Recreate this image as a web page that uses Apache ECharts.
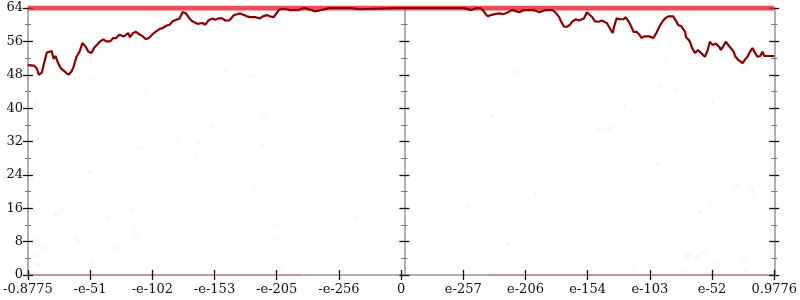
<!DOCTYPE html>
<html><head><meta charset="utf-8">
<script src="https://cdn.jsdelivr.net/npm/echarts@6/dist/echarts.min.js"></script>
<style>html,body{margin:0;padding:0;background:#fff}#c{width:800px;height:300px}</style>
</head><body><div id="c"></div>
<script>
// Tick labels for x axis (positions 0..12)
const tickLabels = ['-0.8775','-e-51','-e-102','-e-153','-e-205','-e-256','0','e-257','e-206','e-154','e-103','e-52','0.9776'];

// Main line: x positions (in tick units) and y values
const lineX = [0,0.096,0.143,0.175,0.223,0.255,0.303,0.382,0.414,0.446,0.478,0.526,0.574,0.653,0.701,0.733,0.781,0.829,0.876,0.924,0.972,1.020,1.068,1.100,1.147,1.211,1.259,1.323,1.371,1.418,1.466,1.498,1.546,1.610,1.641,1.689,1.737,1.801,1.849,1.896,1.944,1.976,2.024,2.056,2.120,2.167,2.231,2.279,2.327,2.359,2.438,2.486,2.534,2.566,2.598,2.645,2.677,2.725,2.757,2.805,2.853,2.900,2.964,3.012,3.060,3.124,3.171,3.235,3.283,3.315,3.363,3.410,3.442,3.474,3.522,3.570,3.602,3.665,3.729,3.777,3.841,3.888,3.952,4.000,4.032,4.080,4.112,4.159,4.207,4.271,4.351,4.398,4.446,4.494,4.558,4.606,4.637,4.685,4.717,4.797,4.845,5.195,5.227,5.323,5.355,6,7,7.060,7.124,7.219,7.267,7.315,7.363,7.394,7.442,7.474,7.522,7.586,7.633,7.697,7.745,7.793,7.857,7.904,7.952,8.016,8.064,8.112,8.175,8.223,8.271,8.335,8.382,8.430,8.478,8.510,8.542,8.574,8.622,8.669,8.717,8.749,8.813,8.861,8.892,8.940,8.988,9.020,9.068,9.116,9.147,9.179,9.227,9.259,9.307,9.355,9.402,9.434,9.466,9.514,9.546,9.578,9.610,9.657,9.689,9.737,9.785,9.833,9.865,9.912,9.944,9.992,10.056,10.104,10.167,10.215,10.247,10.295,10.327,10.375,10.406,10.438,10.454,10.502,10.534,10.566,10.582,10.614,10.645,10.677,10.725,10.773,10.805,10.837,10.884,10.932,10.964,10.996,11.012,11.060,11.092,11.124,11.139,11.187,11.219,11.267,11.299,11.347,11.378,11.426,11.490,11.538,11.570,11.602,11.649,11.681,11.729,11.777,11.809,11.841,11.888,12];
const lineY = [50.3,50.2,49.5,48,48.5,50.5,53.3,53.7,51.8,52.5,51,49.6,49,48,48.8,49.9,52.3,53.5,55.6,54.8,53.5,53.2,54.5,54.7,55.8,56.5,56,56,56.8,56.8,57.6,57.5,57.2,58,57,58,58.3,57.6,57.2,56.5,56.8,57,58,58.3,59,59.2,59.8,60,60.8,61.1,61.5,63,62.8,62.2,61.5,60.8,60.4,60.2,60.5,60.4,60,61,61.5,61.2,61.5,61.5,61,61,61.8,62.3,62.5,62.7,62.6,62.3,62,61.8,61.5,61.8,61.5,62,62.3,62,61.8,62.8,63.5,63.8,64,63.7,63.5,63.5,63.5,63.8,64,63.8,63.5,63.2,63,63.4,63.5,63.8,64,64,63.7,63.7,64,64,64,63.8,63.5,64,64,63.5,62.5,62,62.3,62.3,62.6,62.7,62.5,62.8,63.2,63.5,63.2,63,63.4,63.5,63.5,63.5,63.3,63,63.3,63.5,63.5,63.5,63,62.8,61.8,60.7,59.5,59.5,60,60.7,61.3,61,61,61.5,63,62.5,61.9,60.8,60.4,60.7,61,61,60.4,59.2,58,60,61.5,61.3,61,61.3,61.8,60.8,59.9,58.3,58.3,57.6,56.8,57.2,57.5,57.2,56.8,58,59.9,61,61.5,62,62,62,61.8,60.5,59.9,59.7,59.5,58.3,57,56.5,55.9,54.5,53.2,53.9,53.9,53,52.3,54,55.9,55.5,55.1,55.5,55.9,54.5,53.9,55,55.9,55,54.4,53.5,52.3,51.5,50.8,51.8,52.3,53.3,54.4,53.5,52.3,52.5,53.5,52.5,52.5,52.5];

// Faint scattered samples
const scatterX = [0.127,0.032,0.446,0.478,0.558,0.112,0.127,0.159,0.287,0.781,0.797,1.004,1.020,1.275,1.402,1.689,1.721,1.721,1.817,2.406,2.741,2.709,2.948,3.649,3.793,3.777,3.968,3.968,4.032,5.275,1.020,1.880,3.171,3.618,7.474,7.076,7.713,8.159,8.956,9.179,9.355,9.610,9.753,10.135,10.566,10.598,10.630,10.773,10.869,10.821,10.964,11.012,11.092,11.394,11.490,11.538,11.649,11.665,11.649,10.231,10.167,10.422,11.506,11.761,7.873];
const scatterY = [41.2,35.2,14.4,14.9,15.6,8.4,4.6,2.6,6.5,8.9,7.9,24.7,2.9,13.4,6.5,15.6,11.5,9.3,30.4,32.1,31.9,28.3,35.7,20.9,38.6,31.2,12.0,8.6,1.7,13.9,47.0,43.6,49.1,47.7,38.1,16.8,7.4,19.7,8.4,34.8,35.2,40.7,1.4,26.8,1.0,4.3,5.0,4.3,5.3,14.9,16.8,41.5,2.6,21.3,3.8,1.0,20.4,19.2,8.4,50.8,45.1,44.3,49.4,50.8,48.7];

// Dense sample bands at the extremes (x range start/end, y value)
const topBand = [[0,64],[12,64]];
const bottomBandLeft = [[0,0],[4.4,0]];
const bottomBandRight = [[7.4,0],[12,0]];

const FONT = 'DejaVu Serif';
const AX = '#b0b0b0';

function yAx(opts){
  return Object.assign({
    type:'value', min:0, max:64, interval:8, splitNumber:8,
    axisLine:{show:true, lineStyle:{color:AX, width:2}},
    axisTick:{show:true, length:5, lineStyle:{color:'#111', width:1.3}},
    minorTick:{show:true, splitNumber:2, length:3, lineStyle:{color:'#777', width:1}},
    axisLabel:{show:false},
    splitLine:{show:false}
  }, opts);
}

const chart = echarts.init(document.getElementById('c'));
chart.setOption({
  animation:false,
  grid:{left:24, right:23, top:8, bottom:25, containLabel:false},
  xAxis:[
    {type:'value', min:0, max:12, interval:1, position:'bottom',
     axisLine:{show:true, onZero:false, lineStyle:{color:AX, width:2}},
     axisTick:{show:true, length:5, lineStyle:{color:'#111', width:1.3}},
     axisLabel:{show:true, margin:8, color:'#111', fontFamily:FONT, fontSize:13,
       formatter:function(v){ return tickLabels[Math.round(v)]; }},
     splitLine:{show:false}},
    {type:'value', min:0, max:12, interval:1, position:'bottom',
     axisLine:{show:false, onZero:false},
     axisTick:{show:true, inside:true, length:5, lineStyle:{color:'#111', width:1.3}},
     axisLabel:{show:false}, splitLine:{show:false}}
  ],
  yAxis:[
    yAx({position:'left', axisLabel:{show:true, margin:5, color:'#111', fontFamily:FONT, fontSize:13}}),
    yAx({position:'left', axisLine:{show:false}, axisTick:{show:true, inside:true, length:5, lineStyle:{color:'#111', width:1.3}}, minorTick:{show:true, splitNumber:2, length:3, lineStyle:{color:'#777'}}}),
    yAx({position:'left', offset:-376.5}),
    yAx({position:'left', offset:-376.5, axisLine:{show:false}, axisTick:{show:true, inside:true, length:5, lineStyle:{color:'#111', width:1.3}}, minorTick:{show:true, splitNumber:2, length:3, lineStyle:{color:'#777'}}}),
    yAx({position:'right'}),
    yAx({position:'right', axisLine:{show:false}, axisTick:{show:true, inside:true, length:5, lineStyle:{color:'#111', width:1.3}}, minorTick:{show:true, splitNumber:2, length:3, lineStyle:{color:'#777'}}})
  ],
  series:[
    {type:'line', data:topBand, symbol:'none', z:2, lineStyle:{color:'rgba(235,30,40,0.8)', width:5}},
    {type:'line', data:bottomBandLeft, symbol:'none', z:2, lineStyle:{color:'rgba(230,0,0,0.1)', width:3}},
    {type:'line', data:bottomBandRight, symbol:'none', z:2, lineStyle:{color:'rgba(230,0,0,0.12)', width:3}},
    {type:'scatter', data:scatterX.map((x,i)=>[x,scatterY[i]]), symbol:'circle', symbolSize:5, z:2,
     itemStyle:{color:'rgba(240,0,0,0.035)', borderColor:'rgba(240,0,0,0.05)', borderWidth:0.5}},
    {type:'line', data:lineX.map((x,i)=>[x,lineY[i]]), symbol:'none', z:5,
     lineStyle:{color:'#8b0000', width:2.2}}
  ]
});
</script></body></html>
